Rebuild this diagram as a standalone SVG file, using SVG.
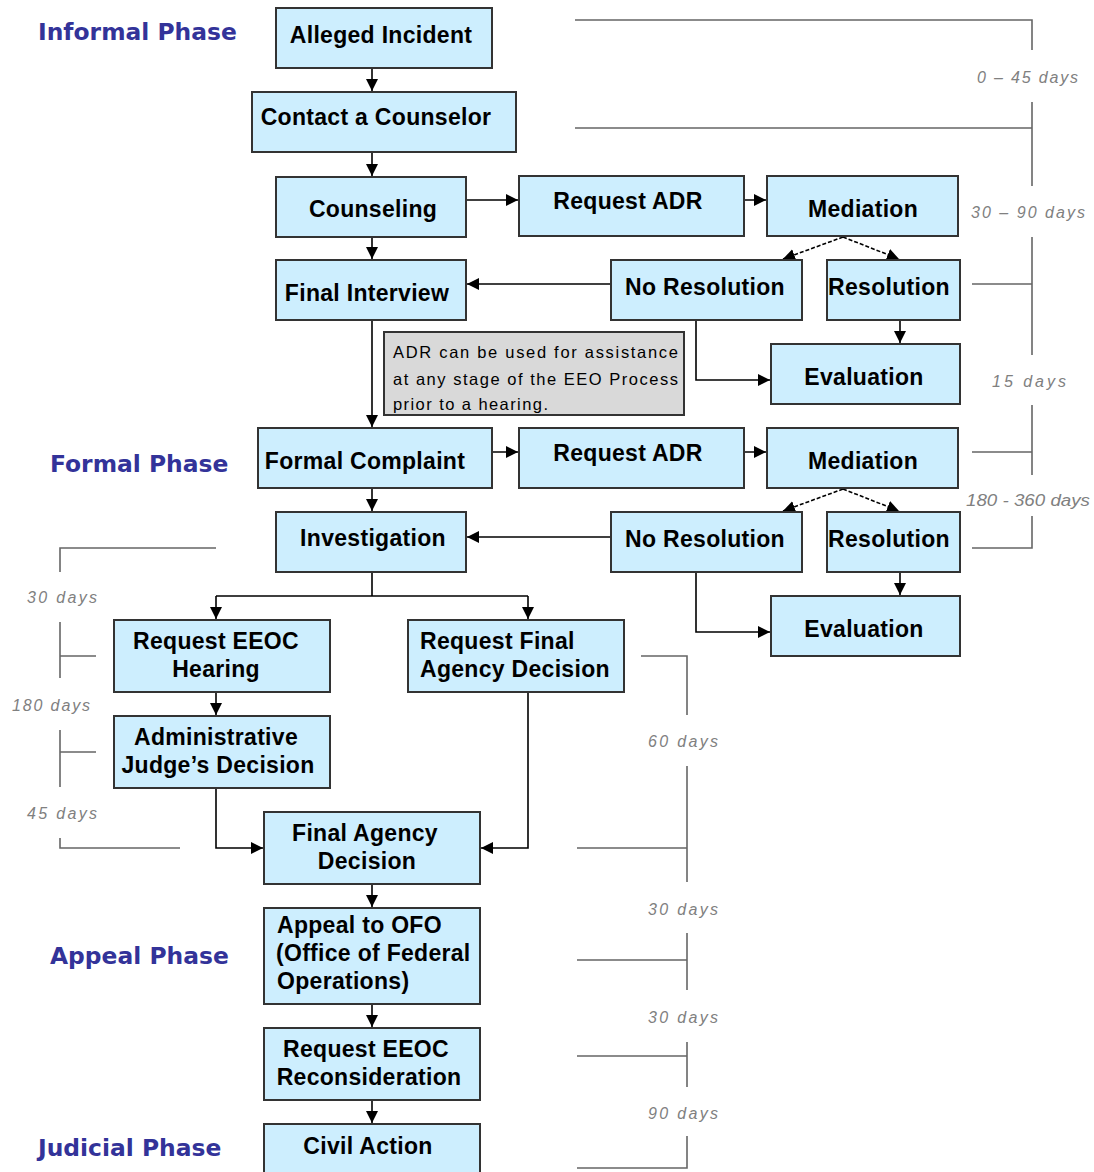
<svg xmlns="http://www.w3.org/2000/svg" width="1094" height="1172" viewBox="0 0 1094 1172">
<style>
.box{fill:#cdeefe;stroke:#333;stroke-width:2}
.note{fill:#d9d9d9;stroke:#333;stroke-width:2}
.t{font-family:"Liberation Sans",Arial,sans-serif;font-weight:bold;font-size:23px;fill:#000;text-anchor:middle;letter-spacing:0.3px}
.tl{text-anchor:start}
.ph{font-family:"DejaVu Sans",Verdana,sans-serif;font-weight:bold;font-size:23.4px;fill:#333399}
.nt{font-family:"Liberation Sans",Arial,sans-serif;font-size:16.5px;fill:#000}
.d{font-family:"Liberation Sans",Arial,sans-serif;font-style:italic;font-size:16px;fill:#808080}
.c{fill:none;stroke:#000;stroke-width:1.6}
.dash{stroke-dasharray:4 2}
.b{fill:none;stroke:#666;stroke-width:1.6}
</style>
<defs>
<marker id="ah" markerUnits="userSpaceOnUse" markerWidth="12" markerHeight="12" refX="10" refY="5" orient="auto" viewBox="0 0 10 10">
<path d="M0,0 L10,5 L0,10 z" fill="#000"/>
</marker>
</defs>
<rect width="1094" height="1172" fill="#fff"/>

<g id="phases">
<text class="ph" x="38" y="40">Informal Phase</text>
<text class="ph" x="50" y="472">Formal Phase</text>
<text class="ph" x="50" y="964">Appeal Phase</text>
<text class="ph" x="38" y="1156">Judicial Phase</text>
</g>

<g id="timeline">
<path class="b" d="M575,20 H1032 V50 M1032,102 V186 M575,128 H1032"/>
<path class="b" d="M1032,237 V355 M972,284 H1032"/>
<path class="b" d="M1032,405 V475 M972,452 H1032"/>
<path class="b" d="M1032,516 V548 H972"/>
<text class="d" x="977" y="83" textLength="101" lengthAdjust="spacing">0 – 45 days</text>
<text class="d" x="971" y="218" textLength="114" lengthAdjust="spacing">30 – 90 days</text>
<text class="d" x="992" y="387" textLength="74" lengthAdjust="spacing">15 days</text>
<text class="d" x="966" y="506" textLength="124" lengthAdjust="spacingAndGlyphs">180 - 360 days</text>
<path class="b" d="M216,548 H60 V572 M60,622 V678 M60,656 H96 M60,730 V787 M60,752 H96 M60,838 V848 H180"/>
<text class="d" x="27" y="603" textLength="70" lengthAdjust="spacing">30 days</text>
<text class="d" x="12" y="711" textLength="78" lengthAdjust="spacing">180 days</text>
<text class="d" x="27" y="819" textLength="70" lengthAdjust="spacing">45 days</text>
<path class="b" d="M641,656 H687 V715 M687,766 V882 M577,848 H687 M687,933 V990 M577,960 H687 M687,1042 V1087 M577,1056 H687 M687,1136 V1168 H577"/>
<text class="d" x="648" y="747" textLength="70" lengthAdjust="spacing">60 days</text>
<text class="d" x="648" y="915" textLength="70" lengthAdjust="spacing">30 days</text>
<text class="d" x="648" y="1023" textLength="70" lengthAdjust="spacing">30 days</text>
<text class="d" x="648" y="1119" textLength="70" lengthAdjust="spacing">90 days</text>
</g>

<g id="connectors">
<path class="c" d="M372,68 V91" marker-end="url(#ah)"/>
<path class="c" d="M372,152 V176" marker-end="url(#ah)"/>
<path class="c" d="M466,200 H518" marker-end="url(#ah)"/>
<path class="c" d="M730,200 H766" marker-end="url(#ah)"/>
<path class="c dash" d="M843,237 L783,259" marker-end="url(#ah)"/>
<path class="c dash" d="M843,237 L899,259" marker-end="url(#ah)"/>
<path class="c" d="M372,237 V259" marker-end="url(#ah)"/>
<path class="c" d="M611,284 H467" marker-end="url(#ah)"/>
<path class="c" d="M696,320 V380 H770" marker-end="url(#ah)"/>
<path class="c" d="M900,320 V343" marker-end="url(#ah)"/>
<path class="c" d="M372,320 V427" marker-end="url(#ah)"/>
<path class="c" d="M478,452 H518" marker-end="url(#ah)"/>
<path class="c" d="M730,452 H766" marker-end="url(#ah)"/>
<path class="c dash" d="M843,489 L783,511" marker-end="url(#ah)"/>
<path class="c dash" d="M843,489 L899,511" marker-end="url(#ah)"/>
<path class="c" d="M372,488 V511" marker-end="url(#ah)"/>
<path class="c" d="M611,537 H467" marker-end="url(#ah)"/>
<path class="c" d="M696,572 V632 H770" marker-end="url(#ah)"/>
<path class="c" d="M900,572 V595" marker-end="url(#ah)"/>
<path class="c" d="M372,572 V596 M216,596 H528"/>
<path class="c" d="M216,596 V619" marker-end="url(#ah)"/>
<path class="c" d="M528,596 V619" marker-end="url(#ah)"/>
<path class="c" d="M216,692 V715" marker-end="url(#ah)"/>
<path class="c" d="M216,788 V848 H263" marker-end="url(#ah)"/>
<path class="c" d="M528,692 V848 H481" marker-end="url(#ah)"/>
<path class="c" d="M372,884 V907" marker-end="url(#ah)"/>
<path class="c" d="M372,1004 V1027" marker-end="url(#ah)"/>
<path class="c" d="M372,1100 V1123" marker-end="url(#ah)"/>
</g>

<g id="alleged-incident"><rect class="box" x="276" y="8" width="216" height="60"/><text class="t" x="381" y="43">Alleged Incident</text></g>
<g id="contact-counselor"><rect class="box" x="252" y="92" width="264" height="60"/><text class="t" x="376" y="125">Contact a Counselor</text></g>
<g id="counseling"><rect class="box" x="276" y="177" width="190" height="60"/><text class="t" x="373" y="217">Counseling</text></g>
<g id="request-adr-1"><rect class="box" x="519" y="176" width="225" height="60"/><text class="t" x="628" y="209">Request ADR</text></g>
<g id="mediation-1"><rect class="box" x="767" y="176" width="191" height="60"/><text class="t" x="863" y="217">Mediation</text></g>
<g id="final-interview"><rect class="box" x="276" y="260" width="190" height="60"/><text class="t" x="367" y="301">Final Interview</text></g>
<g id="no-resolution-1"><rect class="box" x="611" y="260" width="191" height="60"/><text class="t" x="705" y="295">No Resolution</text></g>
<g id="resolution-1"><rect class="box" x="827" y="260" width="133" height="60"/><text class="t" x="889" y="295">Resolution</text></g>
<g id="evaluation-1"><rect class="box" x="771" y="344" width="189" height="60"/><text class="t" x="864" y="385">Evaluation</text></g>
<g id="adr-note"><rect class="note" x="384" y="332" width="300" height="83"/>
<text class="nt" x="393" y="358" textLength="285" lengthAdjust="spacing">ADR can be used for assistance</text>
<text class="nt" x="393" y="385" textLength="285" lengthAdjust="spacing">at any stage of the EEO Process</text>
<text class="nt" x="393" y="410" textLength="155" lengthAdjust="spacing">prior to a hearing.</text></g>
<g id="formal-complaint"><rect class="box" x="258" y="428" width="234" height="60"/><text class="t" x="365" y="469">Formal Complaint</text></g>
<g id="request-adr-2"><rect class="box" x="519" y="428" width="225" height="60"/><text class="t" x="628" y="461">Request ADR</text></g>
<g id="mediation-2"><rect class="box" x="767" y="428" width="191" height="60"/><text class="t" x="863" y="469">Mediation</text></g>
<g id="investigation"><rect class="box" x="276" y="512" width="190" height="60"/><text class="t" x="373" y="546">Investigation</text></g>
<g id="no-resolution-2"><rect class="box" x="611" y="512" width="191" height="60"/><text class="t" x="705" y="547">No Resolution</text></g>
<g id="resolution-2"><rect class="box" x="827" y="512" width="133" height="60"/><text class="t" x="889" y="547">Resolution</text></g>
<g id="evaluation-2"><rect class="box" x="771" y="596" width="189" height="60"/><text class="t" x="864" y="637">Evaluation</text></g>
<g id="request-eeoc-hearing"><rect class="box" x="114" y="620" width="216" height="72"/><text class="t" x="216" y="649">Request EEOC</text><text class="t" x="216" y="677">Hearing</text></g>
<g id="request-final-agency-decision"><rect class="box" x="408" y="620" width="216" height="72"/><text class="t tl" x="420" y="649">Request Final</text><text class="t tl" x="420" y="677">Agency Decision</text></g>
<g id="admin-judge-decision"><rect class="box" x="114" y="716" width="216" height="72"/><text class="t" x="216" y="745">Administrative</text><text class="t" x="218" y="773">Judge’s Decision</text></g>
<g id="final-agency-decision"><rect class="box" x="264" y="812" width="216" height="72"/><text class="t" x="365" y="841">Final Agency</text><text class="t" x="367" y="869">Decision</text></g>
<g id="appeal-ofo"><rect class="box" x="264" y="908" width="216" height="96"/><text class="t tl" x="277" y="933">Appeal to OFO</text><text class="t tl" x="276" y="961">(Office of Federal</text><text class="t tl" x="277" y="989">Operations)</text></g>
<g id="request-eeoc-reconsideration"><rect class="box" x="264" y="1028" width="216" height="72"/><text class="t" x="366" y="1057">Request EEOC</text><text class="t" x="369" y="1085">Reconsideration</text></g>
<g id="civil-action"><rect class="box" x="264" y="1124" width="216" height="60"/><text class="t" x="368" y="1154">Civil Action</text></g>
</svg>
